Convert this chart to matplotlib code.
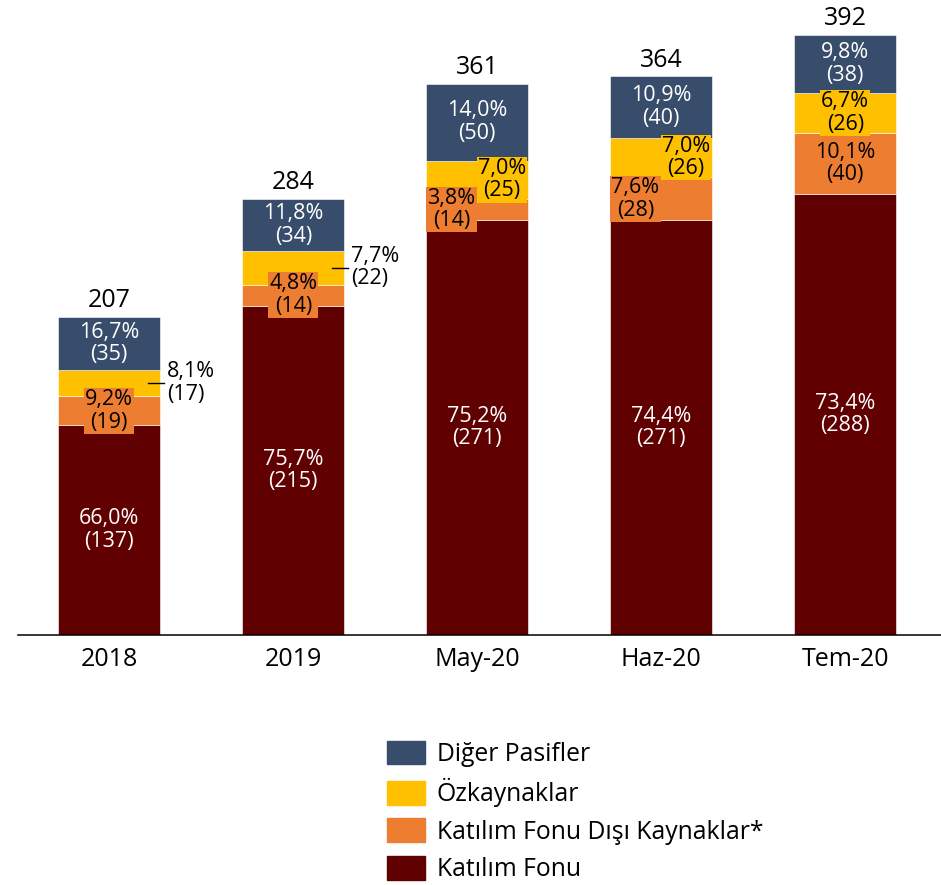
import matplotlib.pyplot as plt
from matplotlib.patches import Patch

plt.rcParams['font.family'] = ['Open Sans', 'DejaVu Sans']

# data
periods = ['2018', '2019', 'May-20', 'Haz-20', 'Tem-20']
totals = [207, 284, 361, 364, 392]
katilim_fonu = [137, 215, 271, 271, 288]
kf_disi = [19, 14, 14, 28, 40]
ozkaynak = [17, 22, 25, 26, 26]
diger = [35, 34, 50, 40, 38]

katilim_pct = ['66,0%', '75,7%', '75,2%', '74,4%', '73,4%']
kf_disi_pct = ['9,2%', '4,8%', '3,8%', '7,6%', '10,1%']
ozkaynak_pct = ['8,1%', '7,7%', '7,0%', '7,0%', '6,7%']
diger_pct = ['16,7%', '11,8%', '14,0%', '10,9%', '9,8%']

series = [
    ('Katılım Fonu', katilim_fonu, katilim_pct, '#600000', 'white'),
    ('Katılım Fonu Dışı Kaynaklar*', kf_disi, kf_disi_pct, '#ED7D31', 'black'),
    ('Özkaynaklar', ozkaynak, ozkaynak_pct, '#FFC000', 'black'),
    ('Diğer Pasifler', diger, diger_pct, '#384C6B', 'white'),
]

# label placement per series: 'c' centered, 'l' shifted left, 'r' shifted right, 'o' outside
placement = {
    'Katılım Fonu': ['c', 'c', 'c', 'c', 'c'],
    'Katılım Fonu Dışı Kaynaklar*': ['c', 'c', 'l', 'l', 'c'],
    'Özkaynaklar': ['o', 'o', 'r', 'r', 'c'],
    'Diğer Pasifler': ['c', 'c', 'c', 'c', 'c'],
}

fig = plt.figure(figsize=(9.41, 8.85), dpi=100)
ax = fig.add_axes([0.0191, 0.2825, 0.9809, 0.7175])

x = list(range(len(periods)))
width = 0.554
bottom = [0] * len(periods)
for name, vals, pcts, color, tcolor in series:
    ax.bar(x, vals, width, bottom=bottom, color=color, edgecolor='white', linewidth=0.4, zorder=2)
    for i in x:
        mid = bottom[i] + vals[i] / 2
        txt = pcts[i] + '\n(' + str(vals[i]) + ')'
        box = None
        if name in ('Katılım Fonu Dışı Kaynaklar*', 'Özkaynaklar'):
            box = dict(boxstyle='square,pad=0.05', fc=color, ec='none')
        p = placement[name][i]
        if p == 'o':
            ax.plot([i + 0.21, i + 0.297], [mid, mid], color='black', lw=1.0, zorder=4)
            ax.text(i + 0.314, mid, txt, ha='left', va='center', fontsize=15.5,
                    color='black', linespacing=1.1, zorder=5)
        else:
            dx = {'c': 0, 'l': -0.14, 'r': 0.135}[p]
            ax.text(i + dx, mid, txt, ha='center', va='center', fontsize=15.5,
                    color=tcolor, linespacing=1.1, bbox=box, zorder=5)
        bottom[i] += vals[i]

for i in x:
    ax.annotate(str(totals[i]), (i, bottom[i]), xytext=(0, 7), textcoords='offset points',
                ha='center', va='baseline', fontsize=18)

ax.set_xlim(-0.496, 4.52)
ax.set_ylim(0, 414.9)
ax.set_xticks(x)
ax.set_xticklabels(periods, fontsize=18)
ax.tick_params(axis='x', length=0, pad=9)
ax.set_yticks([])
for s in ['top', 'right', 'left']:
    ax.spines[s].set_visible(False)
ax.spines['bottom'].set_linewidth(1.1)

handles = [Patch(color=c) for _, _, _, c, _ in series][::-1]
labels = [n for n, _, _, _, _ in series][::-1]
fig.legend(handles, labels, loc='upper left', bbox_to_anchor=(0.411, 0.163),
           frameon=False, fontsize=17.8, handlelength=1.53, handleheight=1.1,
           handletextpad=0.5, labelspacing=0.45, borderpad=0, borderaxespad=0)

fig.savefig('out.png', dpi=100)
